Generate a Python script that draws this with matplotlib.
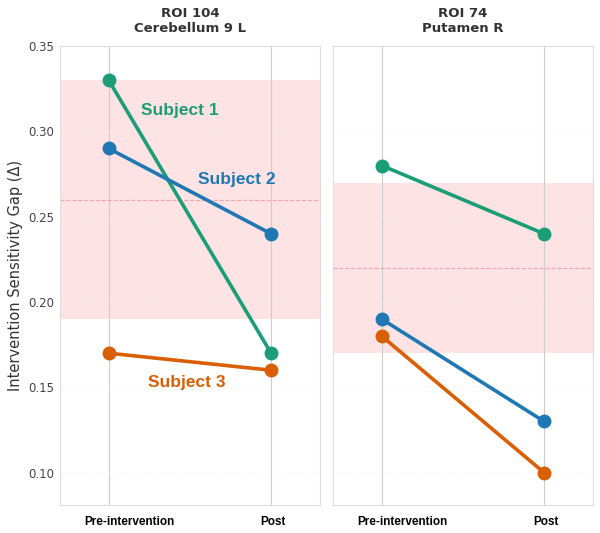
import matplotlib
matplotlib.use("Agg")
import matplotlib.pyplot as plt
import matplotlib.transforms as mtransforms

# valeurs
timepoints = ["Pre-intervention", "Post"]
subjects = ["Subject 1", "Subject 2", "Subject 3"]
colors = ["#1b9e77", "#1f78b4", "#d95f02"]

roi_titles = ["ROI 104\nCerebellum 9 L", "ROI 74\nPutamen R"]
roi104 = [[0.33, 0.17], [0.29, 0.24], [0.17, 0.16]]
roi74 = [[0.28, 0.24], [0.19, 0.13], [0.18, 0.10]]
bands = [(0.19, 0.33, 0.26), (0.17, 0.27, 0.22)]  # bas, haut, ligne pointillee

label_pos = [(0.44, 0.312), (0.79, 0.272), (0.48, 0.153)]

fig = plt.figure(figsize=(6, 5.33), dpi=100)
ax1 = fig.add_axes([0.1, 0.0525, 0.433, 0.861])
ax2 = fig.add_axes([0.555, 0.0525, 0.433, 0.861], sharey=ax1)

for ax, title, data, band in zip([ax1, ax2], roi_titles, [roi104, roi74], bands):
    low, high, mid = band
    ax.axhspan(low, high, color="#fde3e4", zorder=0, lw=0)
    ax.axhline(mid, color="#f08a95", ls="--", lw=0.8, alpha=0.7, zorder=1)
    for vals, c in zip(data, colors):
        ax.plot([0, 1], vals, color=c, lw=2.6, marker="o", ms=9, zorder=3)
    ax.set_xlim(-0.3, 1.3)
    ax.set_xticks([0, 1])
    ax.set_xticklabels(timepoints, fontfamily="Liberation Sans", fontweight="bold",
                       fontsize=8.5, color="black")
    ax.set_title(title, fontsize=9.5, fontweight="bold", color="#333333", pad=10)
    ax.grid(axis="x", color="#cccccc", lw=0.8)
    ax.grid(axis="y", color="#eeeeee", lw=0.6, ls=":")
    ax.set_axisbelow(True)
    ax.tick_params(length=0, pad=8)
    for sp in ax.spines.values():
        sp.set_color("#dddddd")

for name, c, (x, y) in zip(subjects, colors, label_pos):
    ax1.text(x, y, name, color=c, fontsize=12.5, fontweight="bold",
             fontfamily="Liberation Sans", ha="center", va="center", zorder=4)

ax1.set_ylim(0.081, 0.35)
ax1.set_yticks([0.10, 0.15, 0.20, 0.25, 0.30, 0.35])
ax1.tick_params(axis="y", labelsize=8.5, labelcolor="#444444", pad=4)
ax1.set_ylabel("Intervention Sensitivity Gap (Δ)", fontsize=10.5, color="#333333")
plt.setp(ax2.get_yticklabels(), visible=False)

# petit decalage des etiquettes en x (comme sur l'original), apres tick_params
shifts = [0.21, 0.02]
for ax in [ax1, ax2]:
    for lab, s in zip(ax.get_xticklabels(), shifts):
        lab.set_transform(lab.get_transform() +
                          mtransforms.ScaledTranslation(s, 0, fig.dpi_scale_trans))

fig.savefig("out.png", dpi=100)
